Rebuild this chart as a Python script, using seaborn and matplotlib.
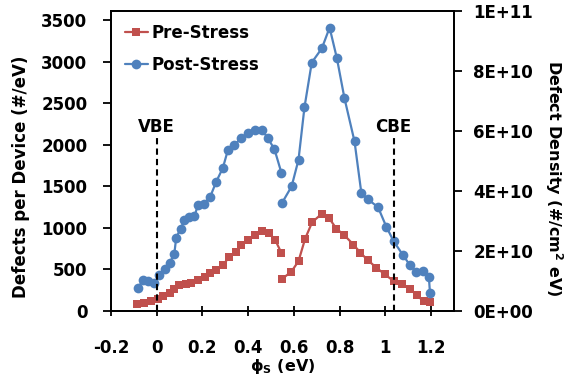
import numpy as np
import pandas as pd
import seaborn as sns
import matplotlib
matplotlib.use("Agg")
import matplotlib.pyplot as plt
from matplotlib.ticker import FuncFormatter

# ---------------- data ----------------
pre_x1 = [-0.085, -0.055, -0.025, 0.004, 0.026, 0.056, 0.077, 0.099, 0.129, 0.151,
          0.18, 0.209, 0.231, 0.26, 0.289, 0.318, 0.347, 0.369, 0.398, 0.428,
          0.459, 0.493, 0.518, 0.545]
pre_y1 = [90, 100, 115, 150, 175, 215, 270, 310, 330, 335,
          375, 415, 460, 495, 555, 650, 710, 790, 855, 915,
          965, 935, 855, 700]
pre_x2 = [0.549, 0.588, 0.62, 0.649, 0.68, 0.722, 0.753, 0.786, 0.821, 0.86,
          0.891, 0.924, 0.961, 0.998, 1.036, 1.073, 1.106, 1.137, 1.168, 1.196]
pre_y2 = [390, 470, 600, 870, 1070, 1170, 1120, 990, 910, 800,
          700, 610, 520, 440, 360, 320, 270, 190, 115, 110]

post_x1 = [-0.083, -0.06, -0.04, -0.01, 0.012, 0.034, 0.056, 0.077, 0.085, 0.104,
           0.121, 0.143, 0.165, 0.18, 0.205, 0.234, 0.26, 0.289, 0.311, 0.34,
           0.369, 0.398, 0.43, 0.46, 0.486, 0.515, 0.545]
post_y1 = [275, 370, 355, 335, 430, 500, 575, 690, 880, 990,
           1090, 1130, 1140, 1275, 1290, 1375, 1555, 1720, 1935, 2000,
           2080, 2140, 2180, 2180, 2080, 1945, 1665]
post_x2 = [0.547, 0.59, 0.62, 0.646, 0.678, 0.722, 0.756, 0.788, 0.821, 0.865,
           0.895, 0.924, 0.968, 1.004, 1.036, 1.078, 1.107, 1.136, 1.165, 1.19,
           1.195]
post_y2 = [1296, 1500, 1820, 2450, 2990, 3160, 3410, 3040, 2560, 2040,
           1416, 1344, 1248, 1014, 840, 668, 553, 467, 480, 415,
           213]

series_names = ["Pre-Stress", "Post-Stress"]
band_edges = [0.0, 1.036]
band_labels = ["VBE", "CBE"]
left_ticks = [0, 500, 1000, 1500, 2000, 2500, 3000, 3500]
right_ticks = [0, 2e10, 4e10, 6e10, 8e10, 1e11]
x_ticks = [-0.2, 0, 0.2, 0.4, 0.6, 0.8, 1, 1.2]
x_tick_labels = ["-0.2", "0", "0.2", "0.4", "0.6", "0.8", "1", "1.2"]

# ---------------- style ----------------
sns.set_style("white")
plt.rcParams["font.family"] = ["DejaVu Sans"]
plt.rcParams["font.weight"] = "bold"
plt.rcParams["axes.labelweight"] = "bold"
plt.rcParams["mathtext.default"] = "bf"
for key in ["text.color", "axes.labelcolor", "xtick.color", "ytick.color",
            "axes.edgecolor"]:
    plt.rcParams[key] = "black"

RED = "#C0504D"
BLUE = "#4F81BD"
FS = 12

fig = plt.figure(figsize=(5.66, 3.79), dpi=100)
ax = fig.add_axes([111 / 566, 1 - 311 / 379, (454 - 111) / 566, 300 / 379])


def seg(ax, xs, ys, color, marker, ms, label):
    df = pd.DataFrame({"x": xs, "y": ys})
    sns.lineplot(data=df, x="x", y="y", ax=ax, color=color, marker=marker,
                 markersize=ms, markeredgewidth=0, linewidth=1.6,
                 sort=False, estimator=None, label=label, legend=False)


seg(ax, pre_x1, pre_y1, RED, "s", 6, series_names[0])
seg(ax, pre_x2, pre_y2, RED, "s", 6, None)
seg(ax, post_x1, post_y1, BLUE, "o", 7, series_names[1])
seg(ax, post_x2, post_y2, BLUE, "o", 7, None)

# band edge markers
for xe, lab in zip(band_edges, band_labels):
    ax.plot([xe, xe], [0, 2080], color="black", linestyle=(0, (3, 2)), linewidth=1.5)
    ax.text(xe, 2215, lab, ha="center", va="center", fontsize=FS,
            fontweight="bold", color="black")

ax.set_xlim(-0.2, 1.3)
ax.set_ylim(0, 3610)
ax.set_xticks(x_ticks)
ax.set_xticklabels(x_tick_labels)
ax.set_yticks(left_ticks)
ax.tick_params(axis="x", direction="inout", length=7, width=1.3, pad=17,
               labelsize=FS, bottom=True, colors="black")
ax.tick_params(axis="y", direction="out", length=6, width=1.3, pad=11,
               labelsize=FS, left=True, colors="black")
for lab in ax.get_xticklabels() + ax.get_yticklabels():
    lab.set_fontweight("bold")
for sp in ax.spines.values():
    sp.set_color("black")
    sp.set_linewidth(1.3)

ax.set_xlabel(r"ϕ$_\mathbf{S}$ (eV)", fontsize=11.5, fontweight="bold",
              labelpad=-0.5, color="black")
ax.set_ylabel("Defects per Device (#/eV)", fontsize=FS, fontweight="bold",
              color="black")
ax.yaxis.set_label_coords(-0.236, 0.447)

leg = ax.legend(loc="upper left", bbox_to_anchor=(0.03, 0.967), frameon=False,
                fontsize=FS, handlelength=1.4, handletextpad=0.2,
                labelspacing=0.8, borderpad=0.2, borderaxespad=0)
for t in leg.get_texts():
    t.set_fontweight("bold")
    t.set_color("black")

ax2 = ax.twinx()
ax2.set_ylim(0, 1e11)
ax2.set_yticks(right_ticks)
ax2.yaxis.set_major_formatter(FuncFormatter(lambda v, p: format(v, ".0E")))
ax2.tick_params(axis="y", direction="out", length=6, width=1.3, pad=8,
                labelsize=FS, right=True, colors="black")
for lab in ax2.get_yticklabels():
    lab.set_fontweight("bold")
for sp in ax2.spines.values():
    sp.set_color("black")
    sp.set_linewidth(1.3)
ax2.set_ylabel("Defect Density (#/cm$^2$ eV)", fontsize=11.5, fontweight="bold",
               rotation=270, color="black")
ax2.yaxis.set_label_coords(1.3236, 0.443)
ax2.grid(False)
ax.grid(False)

fig.savefig("out.png", dpi=100)
